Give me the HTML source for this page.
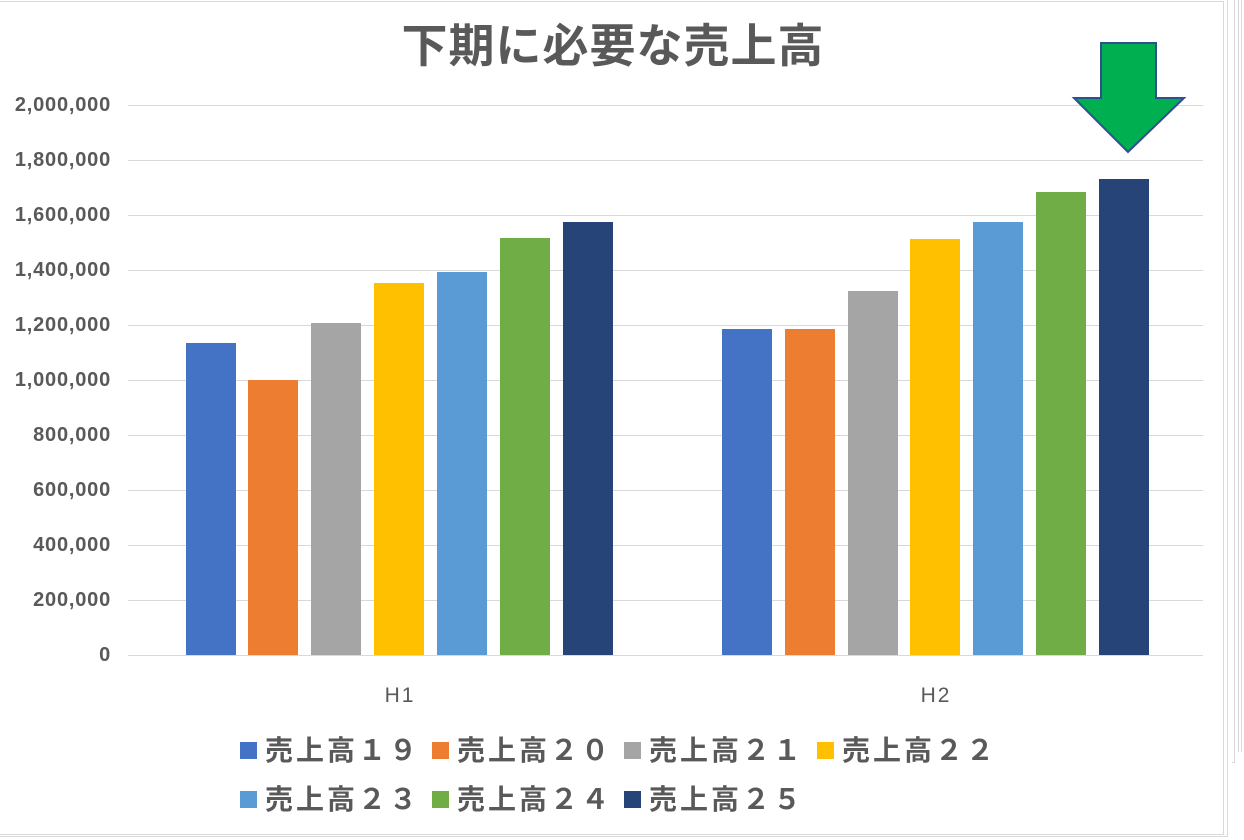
<!DOCTYPE html><html><head><meta charset="utf-8"><style>
body{margin:0;width:1244px;height:840px;background:#fff;overflow:hidden;position:relative;font-family:"Liberation Sans","Noto Sans CJK JP",sans-serif}
.b{position:absolute;border:1.5px solid #d9d9d9}
.yl{position:absolute;right:1133px;font-size:20px;letter-spacing:0.8px;font-weight:bold;color:#595959;text-align:right;line-height:20px}
.g{position:absolute;left:128px;width:1075px;height:1px;background:#d9d9d9}
.bar{position:absolute;width:50px}
.lg{position:absolute;font-size:28px;letter-spacing:3px;font-weight:bold;color:#595959;line-height:30px;white-space:nowrap}
.lg i{display:inline-block;width:17px;height:17px;margin-right:8px;vertical-align:1px}
.xl{position:absolute;width:100px;text-align:center;font-size:21px;letter-spacing:2px;color:#595959;top:684px}
</style></head><body>
<div class="b" style="left:1238px;top:0;width:2px;height:752px;border-left:1.5px solid #d9d9d9;border-right:1.5px solid #d9d9d9;border-top:none;border-bottom:none"></div>
<div class="b" style="left:1232px;top:0;width:2px;height:762px;border-top:none;border-left:none"></div>
<div class="b" style="left:-2px;top:0;width:1228px;height:836px;border-top:none"></div>
<div class="b" style="left:-2px;top:1px;width:1224px;height:832px"></div>
<div style="position:absolute;left:0;top:16px;width:1226px;text-align:center;font-size:46px;letter-spacing:1px;font-weight:bold;color:#595959;line-height:60px">下期に必要な売上高</div>
<div class="g" style="top:105px"></div><div class="g" style="top:160px"></div><div class="g" style="top:215px"></div><div class="g" style="top:270px"></div><div class="g" style="top:325px"></div><div class="g" style="top:380px"></div><div class="g" style="top:435px"></div><div class="g" style="top:490px"></div><div class="g" style="top:545px"></div><div class="g" style="top:600px"></div><div class="g" style="top:655px"></div>
<div class="yl" style="top:95px">2,000,000</div><div class="yl" style="top:150px">1,800,000</div><div class="yl" style="top:205px">1,600,000</div><div class="yl" style="top:260px">1,400,000</div><div class="yl" style="top:315px">1,200,000</div><div class="yl" style="top:370px">1,000,000</div><div class="yl" style="top:425px">800,000</div><div class="yl" style="top:480px">600,000</div><div class="yl" style="top:535px">400,000</div><div class="yl" style="top:590px">200,000</div><div class="yl" style="top:645px">0</div>
<div class="bar" style="left:186px;top:343px;height:312px;background:#4472c4"></div>
<div class="bar" style="left:248px;top:380px;height:275px;background:#ed7d31"></div>
<div class="bar" style="left:311px;top:323px;height:332px;background:#a5a5a5"></div>
<div class="bar" style="left:374px;top:283px;height:372px;background:#ffc000"></div>
<div class="bar" style="left:437px;top:272px;height:383px;background:#5b9bd5"></div>
<div class="bar" style="left:500px;top:238px;height:417px;background:#70ad47"></div>
<div class="bar" style="left:563px;top:222px;height:433px;background:#264478"></div>
<div class="bar" style="left:722px;top:329px;height:326px;background:#4472c4"></div>
<div class="bar" style="left:785px;top:329px;height:326px;background:#ed7d31"></div>
<div class="bar" style="left:848px;top:291px;height:364px;background:#a5a5a5"></div>
<div class="bar" style="left:910px;top:239px;height:416px;background:#ffc000"></div>
<div class="bar" style="left:973px;top:222px;height:433px;background:#5b9bd5"></div>
<div class="bar" style="left:1036px;top:192px;height:463px;background:#70ad47"></div>
<div class="bar" style="left:1099px;top:179px;height:476px;background:#264478"></div>
<div class="xl" style="left:350px">H1</div>
<div class="xl" style="left:886px">H2</div>
<svg style="position:absolute;left:0;top:0" width="1244" height="840"><polygon points="1101,43 1156,43 1156,98 1184,98 1128,152 1074,98 1101,98" fill="#00b050" stroke="#2f4f8f" stroke-width="2"/></svg>
<div class="lg" style="left:240px;top:736px"><i style="background:#4472c4"></i>売上高１９</div>
<div class="lg" style="left:432px;top:736px"><i style="background:#ed7d31"></i>売上高２０</div>
<div class="lg" style="left:624px;top:736px"><i style="background:#a5a5a5"></i>売上高２１</div>
<div class="lg" style="left:817px;top:736px"><i style="background:#ffc000"></i>売上高２２</div>
<div class="lg" style="left:240px;top:785px"><i style="background:#5b9bd5"></i>売上高２３</div>
<div class="lg" style="left:432px;top:785px"><i style="background:#70ad47"></i>売上高２４</div>
<div class="lg" style="left:624px;top:785px"><i style="background:#264478"></i>売上高２５</div>
</body></html>
